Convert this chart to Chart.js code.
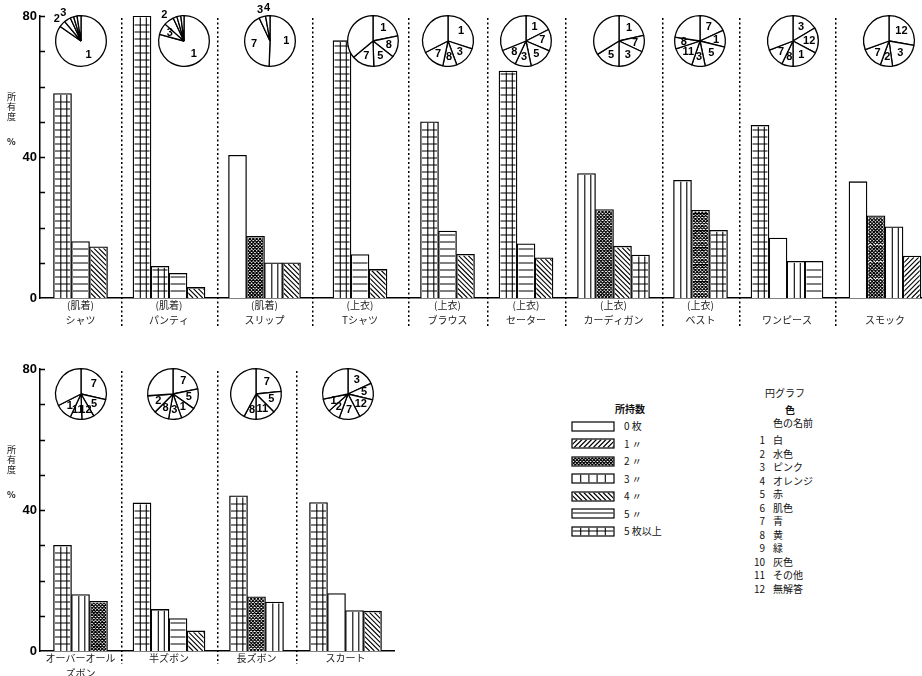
<!DOCTYPE html>
<html>
<head>
<meta charset="utf-8">
<script src="https://cdn.jsdelivr.net/npm/chart.js@4.4.1/dist/chart.umd.min.js"></script>
<style>
body { margin: 0; background: #fff; overflow: hidden; }
#page { position: relative; width: 922px; height: 676px; overflow: hidden; font-family: 'Noto Sans CJK JP', 'Noto Sans', sans-serif; color: #111; }
#page canvas { position: absolute; }
.t { position: absolute; white-space: nowrap; font-size: 10px; line-height: 12px; }
</style>
</head>
<body>
<div id="page"></div>
<script>
// 所持数の区分: 0=0枚 1=1〃 2=2〃 3=3〃 4=4〃 5=5〃 6=5枚以上
var countLabels = ['0 枚', '1 〃', '2 〃', '3 〃', '4 〃', '5 〃', '5 枚以上'];
var colorNames = ['白', '水色', 'ピンク', 'オレンジ', '赤', '肌色', '青', '黄', '緑', '灰色', 'その他', '無解答'];

// 上段
var topNames = [['(肌着)', 'シャツ'], ['(肌着)', 'パンティ'], ['(肌着)', 'スリップ'], ['(上衣)', 'Tシャツ'], ['(上衣)', 'ブラウス'],
  ['(上衣)', 'セーター'], ['(上衣)', 'カーディガン'], ['(上衣)', 'ベスト'], ['', 'ワンピース'], ['', 'スモック']];
var topBarA = [58, 80, 40.5, 73, 50, 64.4, 35.3, 33.4, 49, 33];
var topBarB = [16, 9, 17.5, 12.3, 19, 15.4, 25.1, 24.9, 17, 23.3];
var topBarC = [14.5, 7, 10, 8.1, 12.4, 11.4, 14.7, 19.2, 10.4, 20.2];
var topBarD = [null, 3, 10, null, null, null, 12.2, null, 10.4, 11.9];
var topKindA = [6, 6, 0, 6, 6, 6, 3, 3, 6, 0];
var topKindB = [5, 6, 2, 5, 5, 5, 2, 2, 0, 2];
var topKindC = [4, 5, 3, 4, 4, 4, 4, 6, 3, 3];
var topKindD = [null, 4, 4, null, null, null, 6, null, 5, 1];

var topPieParts = [
  [84.7, 4.2, 4.2, 2.2, 2.2, 2.5],
  [79.2, 7.4, 6.4, 2.5, 2.5, 2.0],
  [50.6, 42.5, 4.2, 2.8],
  [21.7, 13.9, 13.9, 14.4, 36.1],
  [30, 14.4, 8.9, 14.2, 32.5],
  [17.5, 13.9, 15.3, 10.3, 11.9, 31.1],
  [21.4, 10.6, 18.1, 16.1, 33.9],
  [18.1, 10.8, 17.8, 8.6, 14.7, 7.5, 22.5],
  [16.4, 16.4, 17.2, 7.2, 11.9, 30.9],
  [27.8, 20.0, 7.8, 13.9, 30.6]
];
var topPieTags = [
  ['1', '2', '3', '', '', ''],
  ['1', '3', '2', '', '', ''],
  ['1', '7', '3', '4'],
  ['1', '8', '5', '7', ''],
  ['1', '3', '8', '7', ''],
  ['1', '7', '5', '3', '8', ''],
  ['1', '7', '3', '5', ''],
  ['7', '1', '5', '3', '11', '8', ''],
  ['3', '12', '1', '8', '7', ''],
  ['12', '3', '2', '7', '']
];

// 下段
var bottomNames = [['オーバーオール', 'ズボン'], ['半ズボン', ''], ['長ズボン', ''], ['スカート', '']];
var bottomBarA = [30, 42, 44, 42.1];
var bottomBarB = [16, 11.8, 15.4, 16.3];
var bottomBarC = [14.1, 9.2, 13.9, 11.5];
var bottomBarD = [null, 5.7, null, 11.3];
var bottomKindA = [6, 6, 6, 6];
var bottomKindB = [3, 3, 2, 0];
var bottomKindC = [2, 5, 3, 3];
var bottomKindD = [null, 4, null, 4];

var bottomPieParts = [
  [28.6, 13.1, 7.8, 7.5, 10.6, 32.5],
  [21.7, 13.1, 9.7, 8.3, 9.7, 11.4, 26.1],
  [23.3, 14.2, 12.5, 7.8, 42.2],
  [18.1, 10.6, 13.6, 13.3, 7.8, 8.3, 28.3]
];
var bottomPieTags = [
  ['7', '5', '12', '11', '1', ''],
  ['7', '5', '1', '3', '8', '2', ''],
  ['7', '5', '11', '8', ''],
  ['3', '5', '12', '7', '2', '1', '']
];

// layout
var topEdges = [40, 121, 217, 312, 408, 487, 565, 662, 739, 835, 935];
var bottomEdges = [40, 121, 217, 296, 395];
var topPieX = [81, 184, 270, 373, 448, 526, 619, 700, 793, 889];
var bottomPieX = [81, 173, 256, 348];

Chart.defaults.font.family = "'Noto Sans CJK JP', 'Noto Sans', sans-serif";
Chart.defaults.animation = false;

var page = document.getElementById('page');

function drawHatch(g, kind, L, T, R, B, colStep, rowStep) {
  if (kind == null || kind === 0) return;
  var h = B - T, s, x, y, step;
  g.save();
  g.beginPath();
  g.rect(L, T, R - L, B - T);
  g.clip();
  g.strokeStyle = '#000';
  g.lineWidth = 1.1;
  g.beginPath();
  if (kind === 1 || kind === 2) {
    step = kind === 2 ? 3.4 : 4.8;
    for (s = L - h; s < R; s += step) { g.moveTo(s, B); g.lineTo(s + h, T); }
  }
  if (kind === 4 || kind === 2) {
    step = kind === 2 ? 3.4 : 4.8;
    for (s = L - h; s < R; s += step) { g.moveTo(s, T); g.lineTo(s + h, B); }
  }
  if (kind === 3 || kind === 6) {
    for (x = L + colStep; x < R - 1; x += colStep) { g.moveTo(x, T); g.lineTo(x, B); }
  }
  if (kind === 5 || kind === 6) {
    for (y = B - rowStep; y > T + 1; y -= rowStep) { g.moveTo(L, y); g.lineTo(R, y); }
  }
  g.stroke();
  g.restore();
}

var barHatch = {
  id: 'barHatch',
  afterDatasetsDraw: function(chart) {
    var g = chart.ctx;
    chart.data.datasets.forEach(function(ds, di) {
      chart.getDatasetMeta(di).data.forEach(function(bar, i) {
        if (ds.data[i] == null) return;
        var p = bar.getProps(['x', 'y', 'base', 'width']);
        var bw = 1.3;
        var L = p.x - p.width / 2 + bw, R = p.x + p.width / 2 - bw;
        var T = Math.min(p.y, p.base) + bw, B = Math.max(p.y, p.base);
        drawHatch(g, ds.kinds[i], L, T, R, B, (R - L + 2 * bw) / 3, 7);
      });
    });
  }
};

var yTicks = {
  id: 'yTicks',
  afterDraw: function(chart) {
    var g = chart.ctx, ys = chart.scales.y, a = chart.chartArea;
    g.save();
    g.strokeStyle = '#000';
    g.lineWidth = 1.3;
    g.beginPath();
    for (var v = 10; v <= 80; v += 10) {
      var py = Math.round(ys.getPixelForValue(v)) + 0.5;
      g.moveTo(a.left, py);
      g.lineTo(a.left + 5, py);
    }
    g.stroke();
    g.restore();
  }
};

var divider = {
  id: 'divider',
  afterDraw: function(chart) {
    var g = chart.ctx, a = chart.chartArea;
    g.save();
    g.strokeStyle = '#000';
    g.lineWidth = 1.5;
    g.setLineDash([2, 2.5]);
    g.beginPath();
    g.moveTo(a.left + 0.75, a.top + 2);
    g.lineTo(a.left + 0.75, chart.height - 12);
    g.stroke();
    g.restore();
  }
};

function panelChart(row, i) {
  var first = i === 0;
  var left = first ? 0 : row.edges[i];
  var width = row.edges[i + 1] - left;
  var cv = document.createElement('canvas');
  cv.width = width;
  cv.height = row.height;
  cv.style.left = left + 'px';
  cv.style.top = row.top + 'px';
  page.appendChild(cv);

  var datasets = row.values.map(function(vals, r) {
    return {
      data: [vals[i]],
      kinds: [row.kinds[r][i]],
      backgroundColor: '#fff',
      borderColor: '#000',
      borderWidth: 1.3,
      barThickness: 18,
      skipNull: true
    };
  });

  var yScale = {
    display: first,
    min: 0,
    max: 80,
    grid: { display: false, drawTicks: false },
    border: { display: true, color: '#000', width: 1.5 },
    ticks: {
      stepSize: 10,
      padding: 3,
      color: '#000',
      font: { family: "'Liberation Sans', Arial, sans-serif", size: 13, weight: 'bold' },
      callback: function(v) { return v % 40 === 0 ? v : ''; }
    }
  };
  if (first) yScale.afterFit = function(s) { s.width = 40; };

  new Chart(cv, {
    type: 'bar',
    data: { labels: [row.names[i]], datasets: datasets },
    options: {
      responsive: false,
      events: [],
      layout: { padding: { top: 16, left: 0, right: 0, bottom: 0 } },
      plugins: { legend: { display: false }, tooltip: { enabled: false } },
      scales: {
        x: {
          grid: { display: false, drawTicks: false },
          border: { display: true, color: '#000', width: 1.5 },
          ticks: { color: '#222', padding: 0, maxRotation: 0, autoSkip: false,
            font: { size: 10, lineHeight: 1.45 } },
          afterFit: function(s) { s.height = row.height - 298; }
        },
        y: yScale
      }
    },
    plugins: [barHatch, first ? yTicks : divider]
  });
}

var pieTags = {
  id: 'pieTags',
  afterDatasetsDraw: function(chart) {
    var g = chart.ctx;
    var tags = chart.data.labels;
    var total = chart.data.datasets[0].data.reduce(function(a, b) { return a + b; }, 0);
    g.save();
    g.fillStyle = '#000';
    g.font = "bold 11px 'Liberation Sans', Arial, sans-serif";
    g.textAlign = 'center';
    g.textBaseline = 'middle';
    chart.getDatasetMeta(0).data.forEach(function(arc, i) {
      if (!tags[i]) return;
      var p = arc.getProps(['x', 'y', 'startAngle', 'endAngle', 'outerRadius']);
      var mid = (p.startAngle + p.endAngle) / 2;
      var share = chart.data.datasets[0].data[i] / total;
      var r = share < 0.07 ? p.outerRadius * 1.3 : p.outerRadius * 0.64;
      g.fillText(tags[i], p.x + Math.cos(mid) * r, p.y + Math.sin(mid) * r);
    });
    g.restore();
  }
};

function pieChart(parts, tags, cx, cy) {
  var cv = document.createElement('canvas');
  cv.width = 80;
  cv.height = 80;
  cv.style.left = (cx - 40) + 'px';
  cv.style.top = (cy - 40) + 'px';
  page.appendChild(cv);
  new Chart(cv, {
    type: 'pie',
    data: { labels: tags, datasets: [{ data: parts, backgroundColor: '#fff', borderColor: '#000', borderWidth: 1.3 }] },
    options: {
      responsive: false,
      events: [],
      layout: { padding: 14 },
      plugins: { legend: { display: false }, tooltip: { enabled: false } }
    },
    plugins: [pieTags]
  });
}

var topRow = {
  top: 0, height: 340, edges: topEdges, names: topNames,
  values: [topBarA, topBarB, topBarC, topBarD],
  kinds: [topKindA, topKindB, topKindC, topKindD]
};
var bottomRow = {
  top: 353, height: 323, edges: bottomEdges, names: bottomNames,
  values: [bottomBarA, bottomBarB, bottomBarC, bottomBarD],
  kinds: [bottomKindA, bottomKindB, bottomKindC, bottomKindD]
};

topNames.forEach(function(n, i) { panelChart(topRow, i); });
bottomNames.forEach(function(n, i) { panelChart(bottomRow, i); });
topPieParts.forEach(function(p, i) { pieChart(p, topPieTags[i], topPieX[i], 41); });
bottomPieParts.forEach(function(p, i) { pieChart(p, bottomPieTags[i], bottomPieX[i], 394); });

function text(str, x, y, extra) {
  var d = document.createElement('div');
  d.className = 't';
  d.textContent = str;
  d.style.left = x + 'px';
  d.style.top = (y - 6) + 'px';
  if (extra) Object.assign(d.style, extra);
  page.appendChild(d);
  return d;
}

// y axis titles
[0, 353].forEach(function(off) {
  text('所', 7, 97 + off, { fontSize: '9px' });
  text('有', 7, 107 + off, { fontSize: '9px' });
  text('度', 7, 117 + off, { fontSize: '9px' });
  text('%', 7, 142 + off, { fontSize: '9px', fontWeight: 'bold' });
});

// 所持数 legend
text('所持数', 615, 409, { fontWeight: 'bold' });
countLabels.forEach(function(lab, k) {
  var y = 426 + k * 17.5;
  var cv = document.createElement('canvas');
  cv.width = 44;
  cv.height = 11;
  cv.style.left = '571px';
  cv.style.top = Math.round(y - 5.5) + 'px';
  page.appendChild(cv);
  var g = cv.getContext('2d');
  g.fillStyle = '#fff';
  g.fillRect(1, 1, 42, 9);
  drawHatch(g, k, 1.5, 1.5, 42.5, 9.5, 8.2, 4.5);
  g.strokeStyle = '#000';
  g.lineWidth = 1.2;
  g.strokeRect(1, 1, 42, 9);
  text(lab, 624, y);
});

// 円グラフ legend
text('円グラフ', 765, 393);
text('色', 785, 410, { fontWeight: 'bold' });
text('色の名前', 773, 423);
colorNames.forEach(function(name, k) {
  var y = 440 + k * 13.5;
  text(String(k + 1), 745, y, { width: '20px', textAlign: 'right' });
  text(name, 773, y);
});
</script>
</body>
</html>
